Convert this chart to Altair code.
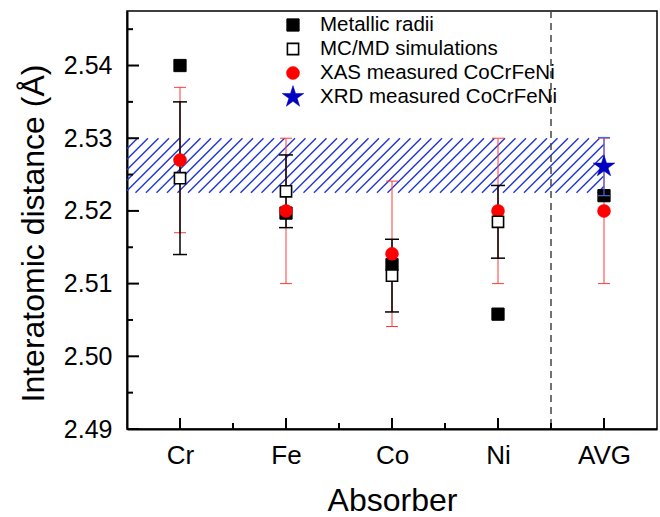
import math
import altair as alt
import numpy as np
import pandas as pd

# ---------------- data ----------------
categories = ["Cr", "Fe", "Co", "Ni", "AVG"]
positions = [1, 2, 3, 4, 5]

metallic = [2.5400, 2.5197, 2.5126, 2.5058, 2.5221]
mcmd_pos = [1, 2, 3, 4]
mcmd = [2.5245, 2.5227, 2.5111, 2.5185]
mcmd_err = [0.0105, 0.0050, 0.0050, 0.0050]
xas = [2.5270, 2.5200, 2.5141, 2.5200, 2.5200]
xas_err = [0.0100, 0.0100, 0.0100, 0.0100, 0.0100]
xrd_pos = [5]
xrd = [2.5261]
xrd_err = [0.0040]

band_y = [2.5225, 2.5300]   # hatched XRD range
band_x = [0.5, 5.0]
divider = [4.5]

y_major = [2.49, 2.50, 2.51, 2.52, 2.53, 2.54]
y_minor = [2.495, 2.505, 2.515, 2.525, 2.535, 2.545]
x_minor = [1.5, 2.5, 3.5, 4.5]

legend_labels = ["Metallic radii", "MC/MD simulations",
                 "XAS measured CoCrFeNi", "XRD measured CoCrFeNi"]

# ---------------- layout ----------------
W, H = 530, 418
X_DOM = [0.5, 5.5]
Y_DOM = [2.49, 2.5475]
FONT = "Liberation Sans"

label_expr = "[" + ",".join(f"'{c}'" for c in categories) + "][datum.value - 1]"

xaxis = alt.Axis(values=positions, labelExpr=label_expr, ticks=False, grid=False,
                 domainColor="black", domainWidth=2, labelFontSize=26, labelFont=FONT,
                 labelColor="black", labelPadding=13, title="Absorber",
                 titleFont=FONT, titleFontSize=32, titleFontWeight="normal",
                 titleColor="black", titleX=W / 2, titleY=81, titleAlign="center",
                 titleBaseline="alphabetic")
yaxis = alt.Axis(values=y_major, format=".2f", ticks=False, grid=False,
                 domainColor="black", domainWidth=2, labelFontSize=25, labelFont=FONT,
                 labelColor="black", labelPadding=15, title="Interatomic distance (Å)",
                 titleFont=FONT, titleFontSize=32, titleFontWeight="normal",
                 titleColor="black", titleAngle=270, titleX=-84, titleY=222,
                 titleAlign="center", titleBaseline="alphabetic")

xs = alt.Scale(domain=X_DOM, nice=False, zero=False)
ys = alt.Scale(domain=Y_DOM, nice=False, zero=False)


def X(f):
    return alt.X(f, type="quantitative", scale=xs, axis=xaxis)


def Y(f):
    return alt.Y(f, type="quantitative", scale=ys, axis=yaxis)


# ---------------- hatch lines for the band ----------------
ppx = W / (X_DOM[1] - X_DOM[0])
ppy = H / (Y_DOM[1] - Y_DOM[0])
L = (band_x[0] - X_DOM[0]) * ppx
R = (band_x[1] - X_DOM[0]) * ppx
BH = (band_y[1] - band_y[0]) * ppy
spacing = 10.5
rows = []
for b in np.arange(-BH, R, spacing):
    x0, y0 = b, 0.0
    x1, y1 = b + BH, BH
    if x0 < L:
        y0 = L - b
        x0 = L
    if x1 > R:
        y1 = R - b
        x1 = R
    if x1 <= x0:
        continue
    rows.append({"x": X_DOM[0] + x0 / ppx, "y": band_y[0] + y0 / ppy,
                 "x2": X_DOM[0] + x1 / ppx, "y2": band_y[0] + y1 / ppy})
hatch_df = pd.DataFrame(rows)

hatch = alt.Chart(hatch_df).mark_rule(color="#1f35d0", strokeWidth=1.4).encode(
    x=X("x"), y=Y("y"), x2="x2:Q", y2="y2:Q")

div = alt.Chart(pd.DataFrame({"x": divider})).mark_rule(
    color="#444444", strokeWidth=1.5, strokeDash=[7, 5]).encode(x=X("x"))

# ---------------- series tables ----------------
met_df = pd.DataFrame({"x": positions, "y": metallic})
mc_df = pd.DataFrame({"x": mcmd_pos, "y": mcmd,
                      "lo": np.array(mcmd) - np.array(mcmd_err),
                      "hi": np.array(mcmd) + np.array(mcmd_err)})
xas_df = pd.DataFrame({"x": positions, "y": xas,
                       "lo": np.array(xas) - np.array(xas_err),
                       "hi": np.array(xas) + np.array(xas_err)})
xrd_df = pd.DataFrame({"x": xrd_pos, "y": xrd,
                       "lo": np.array(xrd) - np.array(xrd_err),
                       "hi": np.array(xrd) + np.array(xrd_err)})


def errbars(df, color, width, cap):
    bar = alt.Chart(df).mark_rule(color=color, strokeWidth=width).encode(
        x=X("x"), y=Y("lo"), y2="hi:Q")
    lo = alt.Chart(df).mark_tick(orient="horizontal", color=color, size=cap,
                                 thickness=width, opacity=1).encode(x=X("x"), y=Y("lo"))
    hi = alt.Chart(df).mark_tick(orient="horizontal", color=color, size=cap,
                                 thickness=width, opacity=1).encode(x=X("x"), y=Y("hi"))
    return [bar, lo, hi]


star_pts = []
for k in range(10):
    r = 1.0 if k % 2 == 0 else 0.382
    a = math.radians(k * 36)
    star_pts.append(f"{r * math.sin(a):.4f},{-r * math.cos(a):.4f}")
STAR = "M" + " L".join(star_pts) + " Z"

styles = [
    dict(shape="square", filled=True, fill="black", stroke="black", size=150, strokeWidth=1),
    dict(shape="square", filled=True, fill="white", stroke="black", size=125, strokeWidth=1.6),
    dict(shape="circle", filled=True, fill="#ff0000", stroke="#ff0000", size=170, strokeWidth=0.5),
    dict(shape=STAR, filled=True, fill="#0000c0", stroke="#0000c0", size=520, strokeWidth=0.5),
]


def pts(df, st):
    return alt.Chart(df).mark_point(opacity=1, **st).encode(x=X("x"), y=Y("y"))


met = pts(met_df, styles[0])
mc = pts(mc_df, styles[1])
xs_pts = pts(xas_df, styles[2])
xrd_pts = pts(xrd_df, styles[3])

# ---------------- legend ----------------
leg_y = [14, 38, 62, 86]
legend_layers = []
for lab, st, yy in zip(legend_labels, styles, leg_y):
    d = pd.DataFrame({"label": [lab]})
    legend_layers.append(alt.Chart(d).mark_point(opacity=1, **st).encode(
        x=alt.value(166), y=alt.value(yy)))
    legend_layers.append(alt.Chart(d).mark_text(
        align="left", baseline="middle", fontSize=20.5, font=FONT, color="black").encode(
        x=alt.value(193), y=alt.value(yy), text="label:N"))

# ---------------- inward ticks ----------------
ymaj = alt.Chart(pd.DataFrame({"y": y_major})).mark_rule(color="black", strokeWidth=2).encode(
    y=Y("y"), x=alt.value(0), x2=alt.value(12))
ymin = alt.Chart(pd.DataFrame({"y": y_minor})).mark_rule(color="black", strokeWidth=2).encode(
    y=Y("y"), x=alt.value(0), x2=alt.value(6))
xmaj = alt.Chart(pd.DataFrame({"x": positions})).mark_rule(color="black", strokeWidth=2).encode(
    x=X("x"), y=alt.value(H), y2=alt.value(H - 11))
xmin = alt.Chart(pd.DataFrame({"x": x_minor})).mark_rule(color="black", strokeWidth=2).encode(
    x=X("x"), y=alt.value(H), y2=alt.value(H - 6))

layers = ([hatch, div]
          + errbars(xas_df, "#ff3b3b", 1.0, 12)
          + errbars(mc_df, "black", 1.5, 14)
          + [met, xs_pts, mc]
          + errbars(xrd_df, "#4a66e0", 1.2, 12)
          + [xrd_pts]
          + legend_layers
          + [ymaj, ymin, xmaj, xmin])

chart = alt.layer(*layers).properties(
    width=W, height=H, autosize="none",
    padding={"left": 127, "top": 11, "right": 3, "bottom": 88},
    background="white",
).configure_view(stroke="black", strokeWidth=1.5)

chart.save("out.html", embed_options={"renderer": "svg", "actions": False})
